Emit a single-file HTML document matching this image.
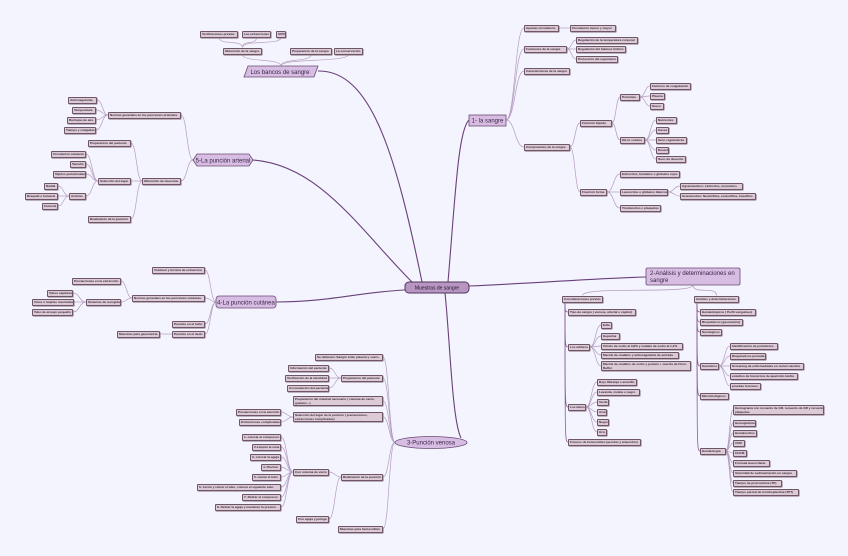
<!DOCTYPE html>
<html><head><meta charset="utf-8"><style>
html,body{margin:0;padding:0;background:#f3f4fd;}
#c{position:relative;width:848px;height:556px;overflow:hidden;background:#f3f4fd;font-family:"Liberation Sans",sans-serif;}
svg{position:absolute;left:0;top:0;}
.n{position:absolute;box-sizing:border-box;background:#dccad6;border:0.8px solid #6e5668;border-radius:1px;font-size:3.1px;font-weight:bold;color:#3a2d38;line-height:3.6px;padding:0 1px;white-space:nowrap;overflow:hidden;box-shadow:0.6px 0.6px 0 #9a8896;}
</style></head><body><div id="c">
<svg id="s" width="848" height="556"></svg>
</div>
<script>
var N={
c:[405,469,287,"Muestras de sangre",null],
b:[244,318,71,"Los bancos de sangre",null],
b1:[223,262,51,"Obtención de la sangre","b"],
b2:[290,332,51,"Preparación de la sangre","b"],
b3:[334,363,51,"La conservación","b"],
b11:[200,238,34,"Verificaciones previas","b1"],
b12:[242,271,34,"Las extracciones","b1"],
b13:[276,286,34,"GPR","b1"],
a:[193,253,160,"5-La punción arterial",null],
a1:[108,181,115,"Normas generales en las punciones arteriales","a"],
a11:[68,97,100,"Anticoagulante,","a1"],a12:[72,96,110,"Temperatura","a1"],a13:[67,96,120,"Burbujas de aire","a1"],a14:[64,96,130,"Tiempo y cadguilas","a1"],
a2:[142,181,181,"Obtención de muestras","a"],
a21:[88,131,143,"Preparación del paciente","a2"],
a22:[98,131,181,"Selección del lugar","a2"],
a23:[88,131,219,"Realización de la punción","a2"],
a221:[51,86,154,"Circulación colateral","a22"],a222:[70,86,164,"Tamaño","a22"],a223:[53,86,174,"Tejidos periarticulares","a22"],a224:[69,86,196,"Arterias","a22"],
a2241:[44,58,186,"Radial","a224"],a2242:[25,58,196,"Braquial o humeral","a224"],a2243:[42,58,206,"Femoral","a224"],
s:[469,506,120,"1- la sangre",null],
s1:[524,559,28,"Aparato circulatorio","s"],s11:[570,616,28,"Circulación menor y mayor","s1"],
s2:[524,567,49,"Funciones de la sangre","s"],
s21:[576,638,40,"Regulación de la temperatura corporal","s2"],s22:[576,626,49,"Regulación del balance hídrico","s2"],s23:[576,618,59,"Protección del organismo","s2"],
s3:[524,570,71,"Características de la sangre","s"],
s4:[524,570,147,"Componentes de la sangre","s"],
s41:[580,612,123,"Fracción líquida","s4"],
s411:[620,640,97,"Proteínas","s41"],s4111:[650,691,86,"Factores de coagulación","s411"],s4112:[650,665,96,"Plasma","s411"],s4113:[650,664,106,"Suero","s411"],
s412:[620,645,140,"Otros solutos","s41"],
s4121:[656,677,120,"Nutrientes","s412"],s4122:[656,669,130,"Gases","s412"],s4123:[656,687,140,"Sust. reguladoras","s412"],s4124:[656,669,150,"Desecho","s412"],s4125:[656,686,159,"Sust. de desecho","s412"],
s42:[580,607,192,"Fracción forme","s4"],
s421:[620,680,174,"Eritrocitos, hematíes o glóbulos rojos","s42"],
s422:[620,668,192,"Leucocitos o glóbulos blancos","s42"],
s4221:[680,743,186,"Agranulocitos: Linfocitos, monocitos","s422"],s4222:[680,756,196,"Granulocitos: Neutrófilos, eosinófilos, basófilos","s422"],
s423:[620,661,208,"Trombocitos o plaquetas","s42"],
d:[646,740,276,"2-Análisis y determinaciones en sangre",null],
d1:[562,603,299,"Consideraciones previas","d"],
d2:[694,739,299,"Análisis y determinaciones","d"],
d11:[568,636,312,"Tipo de sangre ( venosa, arterial o capilar)","d1",1],
d12:[568,590,347,"Los aditivos","d1",1],
d121:[601,612,325,"Edta","d12"],d122:[601,620,336,"Heparina","d12"],d123:[601,683,346,"Citrato de sodio al 3,8% y oxalato de sodio al 1,4%","d12"],d124:[601,679,355,"Mezcla de oxalatos y anticoagulante de entrada","d12"],
d125:[601,691,366,"Mezcla de oxalatos de sodio y potasio + mezcla de Fluor-<br>Buffer","d12",0,2],
d13:[568,586,407,"Los tubos","d1",1],
d131:[597,637,382,"Rojo /Naranja o amarillo","d13"],d132:[597,640,392,"Lavanda, violeta o negro","d13"],d133:[597,609,402,"Verde","d13"],d134:[597,607,412,"Azul","d13"],d135:[597,609,422,"Negro","d13"],d136:[597,607,432,"Gris","d13"],
d14:[568,641,442,"Frascos de hemocultivo (aerobio y anaerobio)","d1",1],
d21:[700,756,312,"Hematológicos ( Perfil sanguíneo)","d2",1],
d22:[700,743,322,"Bioquímicos (gasometría)","d2",1],
d23:[700,722,332,"Serológicos","d2",1],
d24:[700,719,366,"Genéticos","d2",1],
d241:[730,778,346,"Identificación de portadores","d24"],d242:[730,766,356,"Diagnósticos prenatal","d24"],d243:[730,804,366,"Screening de enfermedades en recién nacidos","d24"],d244:[730,798,376,"estudios de trastornos de aparición tardía","d24"],d245:[730,761,386,"pruebas forenses","d24"],
d25:[700,729,396,"Microbiológicos","d2",1],
d26:[700,726,451,"Hematología","d2",1],
d261:[733,824,410,"Hemograma con recuento de GR, recuento de GB y recuento de<br>plaquetas","d26",0,2],
d262:[733,756,423,"Hemoglobina","d26"],d263:[733,757,433,"Hematocritos","d26"],d264:[733,745,443,"VCM","d26"],d265:[733,747,453,"CHCM","d26"],d266:[733,770,463,"Fórmula leucocitaria","d26"],d267:[733,797,473,"Velocidad de sedimentación en sangre","d26"],d268:[733,782,483,"Tiempo de protrombina (TP)","d26"],d269:[733,799,492,"Tiempo parcial de tromboplastina (TPT)","d26"],
u:[216,276,302,"4-La punción cutánea",null],
u1:[152,205,270,"Volumen y técnica de extracción","u"],
u2:[132,205,298,"Normas generales en las punciones cutáneas","u"],
u21:[72,121,281,"Precauciones en la extracción","u2"],u22:[86,121,302,"Sistemas de recogida","u2"],
u221:[47,73,293,"Tubos capilares","u22"],u222:[32,74,302,"Vinos o tarjetas insertadas","u22"],u223:[32,73,312,"Tubo de ensayo pequeño","u22"],
u3:[172,205,324,"Punción en el talón","u"],u4:[172,205,334,"Punción en el dedo","u"],u41:[117,160,334,"Muestras para gasometría","u4"],
v:[395,467,442,"3-Punción venosa",null],
v1:[315,383,357,"Se obtienen: Sangre total, plasma y suero.","v"],
v2:[341,383,378,"Preparación del paciente","v"],
v21:[288,329,368,"Información del paciente","v2"],v22:[285,329,378,"Verificación de la identidad","v2"],v23:[287,329,388,"Acomodación del paciente","v2"],
v3:[293,383,401,"Preparación del material necesario ( sistema de vacío,<br>guantes...)","v",0,2],
v4:[293,383,417,"Selección del lugar de la punción ( precauciones,<br>extracciones complicadas)","v",0,2],
v41:[236,281,412,"Precauciones en la elección","v4"],v42:[239,281,422,"Extracciones complicadas","v4"],
v5:[341,383,477,"Realización de la punción","v"],
v51:[293,329,472,"Con sistema de vacío","v5"],
v511:[242,281,437,"1- colocar el compresor","v51"],v512:[252,281,447,"2-Limpiar la zona","v51"],v513:[250,281,457,"3- colocar la aguja","v51"],v514:[261,281,467,"4- Pinchar","v51"],v515:[252,281,477,"5- Llenar el tubo","v51"],v516:[197,281,487,"6- Cerrar y retirar el tubo, colocar el siguiente tubo","v51"],v517:[242,281,497,"7- Retirar el compresor","v51"],v518:[215,281,507,"8- Retirar la aguja y mantener la presión","v51"],
v52:[296,329,519,"Con aguja y jeringa","v5"],
v6:[338,383,529,"Muestras para hemocultivo","v"]
};
var svg=document.getElementById('s'),C=document.getElementById('c'),p='';
function cx(n){return (n[0]+n[1])/2;}
for(var k in N){var n=N[k];if(!n[4])continue;var P=N[n[4]];
 var x1,x2,y1=P[2],y2=n[2],right=cx(n)>cx(P);
 if(n[5]){x1=P[0]+3;y1=P[2]+4;x2=n[0];p+='<path d="M'+x1+' '+y1+' C'+x1+' '+(y2-2)+' '+x1+' '+y2+' '+x2+' '+y2+'" stroke="#8a5e98" stroke-width="0.8" fill="none"/>';continue;}
 if(k[0]=='b'&&P==N.b){x1=cx(P);y1=66;x2=cx(n);y2=n[2]+3.5;p+='<path d="M'+x1+' '+y1+' C'+x1+' '+(y1-8)+' '+x2+' '+(y2+8)+' '+x2+' '+y2+'" stroke="#b9a0c0" stroke-width="0.7" fill="none"/>';continue;}
 if(k[0]=='b'&&P==N.b1){x1=cx(P);y1=P[2]-3.5;x2=cx(n);y2=n[2]+3.5;p+='<path d="M'+x1+' '+y1+' C'+x1+' '+(y1-8)+' '+x2+' '+(y2+8)+' '+x2+' '+y2+'" stroke="#b9a0c0" stroke-width="0.7" fill="none"/>';continue;}
 if(k=='d1'||k=='d2'){x1=cx(P);y1=285;x2=cx(n);y2=n[2]-3.5;p+='<path d="M'+x1+' '+y1+' C'+x1+' '+(y1+10)+' '+x2+' '+(y2-10)+' '+x2+' '+y2+'" stroke="#b9a0c0" stroke-width="0.8" fill="none"/>';continue;}
 if(right){x1=P[1];x2=n[0];}else{x1=P[0];x2=n[1];}
 var dx=(x2-x1)*0.5;
 p+='<path d="M'+x1+' '+y1+' C'+(x1+dx)+' '+y1+' '+(x2-dx)+' '+y2+' '+x2+' '+y2+'" stroke="#b49cc0" stroke-width="0.7" fill="none"/>';
}
var main='#6a3f7a';
p+='<path d="M318 71 C370 70 395 150 422 282" stroke="'+main+'" stroke-width="1.1" fill="none"/>';
p+='<path d="M253 160 C320 165 360 230 412 282" stroke="'+main+'" stroke-width="1.1" fill="none"/>';
p+='<path d="M276 302 C330 302 360 292 405 290" stroke="'+main+'" stroke-width="1.1" fill="none"/>';
p+='<path d="M448 282 C455 200 458 130 469 120" stroke="'+main+'" stroke-width="1.1" fill="none"/>';
p+='<path d="M469 286 C540 283 600 278 646 277" stroke="'+main+'" stroke-width="1.1" fill="none"/>';
p+='<path d="M445 293 C450 340 452 420 461 438" stroke="'+main+'" stroke-width="1.1" fill="none"/>';
p+='<polygon points="248,66 318,66 314,77 244,77" fill="#d8bde2" stroke="#6a4a78" stroke-width="0.8"/>';
p+='<polygon points="197,154 249,154 253,160 249,166 197,166 193,160" fill="#d8bde2" stroke="#6a4a78" stroke-width="0.8"/>';
p+='<rect x="216" y="296" width="60" height="12" rx="3" fill="#d8bde2" stroke="#6a4a78" stroke-width="0.8"/>';
p+='<ellipse cx="431" cy="442.5" rx="36" ry="6" fill="#d8bde2" stroke="#6a4a78" stroke-width="0.8"/>';
p+='<rect x="469" y="115" width="37" height="11" fill="#d8bde2" stroke="#6a4a78" stroke-width="0.8"/>';
p+='<rect x="646" y="268" width="94" height="17" rx="1.5" fill="#d8bde2" stroke="#6a4a78" stroke-width="0.8"/>';
p+='<rect x="405" y="282" width="64" height="11" rx="4" fill="#b896c2" stroke="#4f3560" stroke-width="1"/>';
p+='<text x="280" y="74" font-size="6" text-anchor="middle" fill="#3a2448" font-family="Liberation Sans">Los bancos de sangre</text>';
p+='<text x="223" y="162.5" font-size="6" text-anchor="middle" fill="#3a2448" font-family="Liberation Sans">5-La punción arterial</text>';
p+='<text x="246" y="304.5" font-size="6" text-anchor="middle" fill="#3a2448" font-family="Liberation Sans">4-La punción cutánea</text>';
p+='<text x="431" y="444.5" font-size="6" text-anchor="middle" fill="#3a2448" font-family="Liberation Sans">3-Punción venosa</text>';
p+='<text x="487.5" y="122.5" font-size="6" text-anchor="middle" fill="#3a2448" font-family="Liberation Sans">1- la sangre</text>';
p+='<text x="650" y="275" font-size="6" fill="#3a2448" font-family="Liberation Sans">2-Análisis y determinaciones en</text>';
p+='<text x="650" y="282" font-size="6" fill="#3a2448" font-family="Liberation Sans">sangre</text>';
p+='<text x="437" y="289.5" font-size="5" text-anchor="middle" fill="#1e1226" font-family="Liberation Sans">Muestras de sangre</text>';
svg.innerHTML=p;
var h='';
for(var k in N){var n=N[k];if(!n[4])continue;var hh=n[6]==2?10:7;
 h+='<div class="n" style="left:'+n[0]+'px;top:'+(n[2]-hh/2)+'px;width:'+(n[1]-n[0])+'px;height:'+hh+'px;padding-top:'+(n[6]==2?1:1.4)+'px">'+n[3]+'</div>';}
C.insertAdjacentHTML('beforeend',h);
</script></body></html>
